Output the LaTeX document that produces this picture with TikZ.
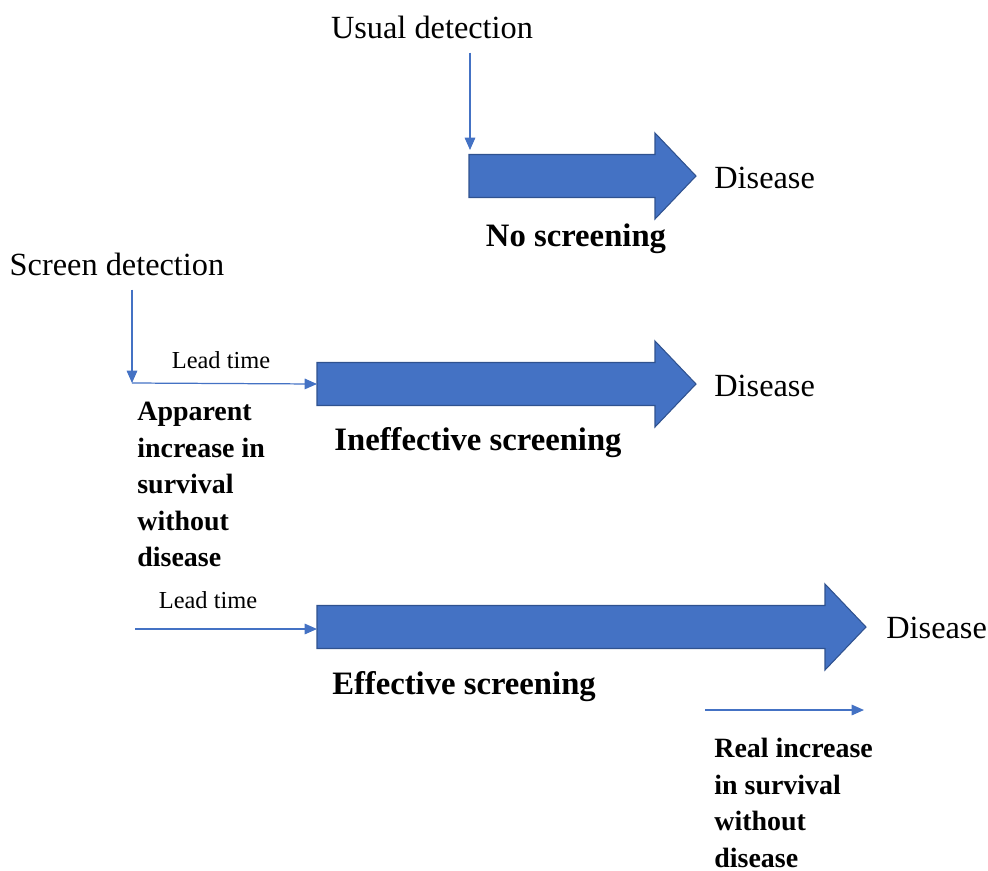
\documentclass[tikz,border=0pt]{standalone}
\usepackage{fontspec}
\setmainfont{Liberation Serif}
\usepackage{tikz}
\usetikzlibrary{arrows.meta,positioning}
\definecolor{arrowblue}{HTML}{4472C4}
\definecolor{edgeblue}{HTML}{2F528F}
% big block arrow: name, tail x, head start x, tip x, middle y
\newcommand{\blockarrow}[5]{%
  \draw[fill=arrowblue,draw=edgeblue,line width=0.6pt]
    (#2,#5-21.5) -- (#3,#5-21.5) -- (#3,#5-43) -- (#4,#5)
    -- (#3,#5+43) -- (#3,#5+21.5) -- (#2,#5+21.5) -- cycle;
  \coordinate (#1-tail) at (#2,#5);
  \coordinate (#1-top) at (#2,#5-21.5);
  \coordinate (#1-tip) at (#4,#5);}
\tikzset{
  thin arrow/.style={draw=arrowblue,line width=0.7pt,-{Triangle[length=7pt,width=6pt]}},
  plain/.style={font=\fontsize{18.4}{22}\selectfont,inner sep=0pt},
  lead/.style={font=\fontsize{13.9}{16}\selectfont,inner sep=0pt},
  heading/.style={font=\fontsize{18.6}{22}\selectfont\bfseries,inner sep=0pt},
  note/.style={font=\fontsize{15.9}{20.8}\selectfont\bfseries,inner sep=0pt,align=left,anchor=north west}}

\begin{document}
\begin{tikzpicture}[x=0.02cm,y=-0.02cm]
\useasboundingbox (0,0) rectangle (988,870);
% no screening
\blockarrow{none}{469}{655}{696}{176}
\node[plain] (usual) at (432,27) {Usual detection};
\coordinate (usualend) at (470,150);
\draw[thin arrow] (usual.south -| usualend) ++(0,14) -- (usualend);
\node[plain,anchor=west] (dis1) at (714,178) {Disease};
\node[heading] (noscr) at (576,239) {No screening};
% ineffective screening
\blockarrow{ineff}{317}{655}{696}{384}
\node[plain] (screen) at (117,264) {Screen detection};
\coordinate (screenpt) at (132,383);
\draw[thin arrow] (screen.south -| screenpt) ++(0,14) -- (screenpt);
\draw[thin arrow] (screenpt) -- (ineff-tail);
\node[lead] (lead1) at (221,360) {Lead time};
\node[plain,anchor=west] (dis2) at (714,386) {Disease};
\node[heading] (ineffscr) at (478,443) {Ineffective screening};
\node[note] (apparent) at (137,402) {Apparent\\increase in\\survival\\without\\disease};
% effective screening
\blockarrow{eff}{317}{825}{866}{627}
\coordinate (leadstart) at (135,629);
\draw[thin arrow] (leadstart) -- (eff-tail |- leadstart);
\node[lead] (lead2) at (208,600) {Lead time};
\node[plain,anchor=west] (dis3) at (886,628) {Disease};
\node[heading] (effscr) at (464,687) {Effective screening};
\coordinate (realstart) at (705,710);
\coordinate (realend) at (864,710);
\draw[thin arrow] (realstart) -- (realend);
\node[note] (real) at (714,738) {Real increase\\in survival\\without\\disease};
\end{tikzpicture}
\end{document}
